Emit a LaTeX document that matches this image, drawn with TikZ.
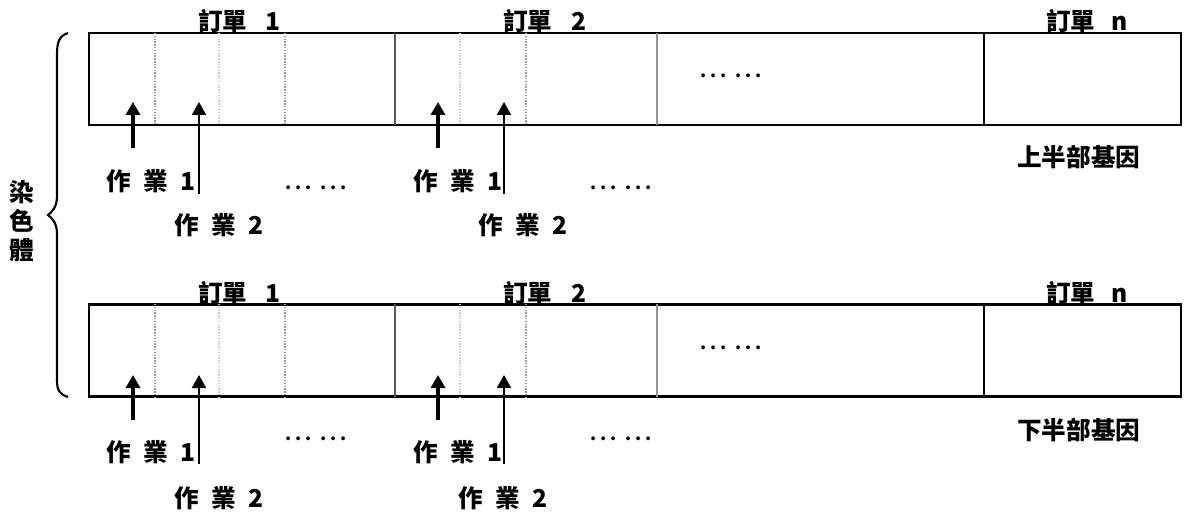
\documentclass[tikz,border=0pt]{standalone}
\usepackage{fontspec}
\setmainfont{Noto Sans CJK TC}
\usetikzlibrary{arrows.meta}
\newcommand\jgap{\hspace{0.5em}}
\newcommand\pdot{\makebox[0.2cm]{.}}
\newcommand\sixdots{\pdot\pdot\pdot\hspace{0.1cm}\pdot\pdot\pdot}
\begin{document}
\begin{tikzpicture}[x=0.02cm,y=-0.02cm,
  lbl/.style={font=\fontsize{14}{16}\selectfont\bfseries, inner sep=0pt, anchor=west},
  dotlbl/.style={font=\fontsize{10}{12}\selectfont\bfseries, inner sep=0pt, anchor=base},
  boxst/.style={draw=black, line width=1.3pt, minimum width=21.84cm, minimum height=1.84cm, inner sep=0pt, outer sep=0pt},
  divdot/.style={draw=gray!80, line width=0.6pt, dash pattern=on 0.8pt off 0.8pt},
  divlight/.style={draw=gray!40, line width=1.2pt, dash pattern=on 0.8pt off 0.8pt},
  divsolid/.style={draw=gray!70!black, line width=1.3pt},
  divmid/.style={draw=gray!85, line width=1.5pt},
  divdark/.style={draw=black, line width=1.3pt},
  arrA/.style={draw=black, line width=2.2pt, -{Triangle[width=0.28cm,length=0.26cm]}},
  arrB/.style={draw=black, line width=1.1pt, -{Triangle[width=0.28cm,length=0.26cm]}},
  bracest/.style={draw=black, line width=1.2pt}]
\useasboundingbox (0,0) rectangle (1185,513);
\fill[white] (0,0) rectangle (1185,513);

\foreach \b/\ya/\yb/\tip/\ta/\tb/\ly/\lyb/\dy/\bx/\ty/\jx/\gy/\gene in
  {u/33/125/102/148/194/181/225/190/78/21/478/157/上半部基因,
   l/304/397/375/420/464/452/498/440/349/293/458/430/下半部基因}{
  \node[boxst] (box\b) at (635,{(\ya+\yb)/2}) {};
  % dividers
  \draw[divdot]   (155,\ya) -- (155,\yb);
  \draw[divlight] (219,\ya) -- (219,\yb);
  \draw[divdot]   (285,\ya) -- (285,\yb);
  \draw[divsolid] (395,\ya) -- (395,\yb);
  \draw[divlight] (460,\ya) -- (460,\yb);
  \draw[divdot]   (526,\ya) -- (526,\yb);
  \draw[divmid]   (657,\ya) -- (657,\yb);
  \draw[divdark]  (984,\ya) -- (984,\yb);
  % titles
  \node[lbl] (o1\b) at (198,\ty) {訂單\hspace{0.75em}1};
  \node[lbl] (o2\b) at (503,\ty) {訂單\hspace{0.75em}2};
  \node[lbl] (on\b) at (1046,\ty) {訂單\hspace{0.65em}n};
  % dots inside the box
  \node[dotlbl] (bd\b) at (731,\bx) {\sixdots};
  % arrows block 1
  \coordinate (t1\b) at (133,\ta); \coordinate (h1\b) at (133,\tip);
  \coordinate (t2\b) at (199,\tb); \coordinate (h2\b) at (199,\tip);
  \draw[arrA] (t1\b) -- (h1\b);
  \draw[arrB] (t2\b) -- (h2\b);
  % arrows block 2
  \coordinate (t3\b) at (438,\ta); \coordinate (h3\b) at (438,\tip);
  \coordinate (t4\b) at (504,\tb); \coordinate (h4\b) at (504,\tip);
  \draw[arrA] (t3\b) -- (h3\b);
  \draw[arrB] (t4\b) -- (h4\b);
  % job labels
  \node[lbl] (ja\b) at (106,\ly) {作\jgap 業\jgap 1};
  \node[lbl] (jb\b) at (174,\lyb) {作\jgap 業\jgap 2};
  \node[lbl] (jc\b) at (413,\ly) {作\jgap 業\jgap 1};
  \node[lbl] (jd\b) at (\jx,\lyb) {作\jgap 業\jgap 2};
  \node[dotlbl] (da\b) at (316,\dy) {\sixdots};
  \node[dotlbl] (db\b) at (621,\dy) {\sixdots};
  % gene label
  \node[lbl] (g\b) at (1017,\gy) {\gene};
}

% brace
\draw[bracest] (68,33) .. controls (59,36) and (57,42) .. (57,55)
  -- (57,196) .. controls (57,207) and (52,212) .. (48,215)
  .. controls (52,218) and (57,223) .. (57,234)
  -- (57,380) .. controls (57,390) and (59,394) .. (68,397);
\node[font=\fontsize{14}{16.4}\selectfont\bfseries, inner sep=0pt, align=center] (chrom) at (22,221) {染\\色\\體};
\end{tikzpicture}
\end{document}
